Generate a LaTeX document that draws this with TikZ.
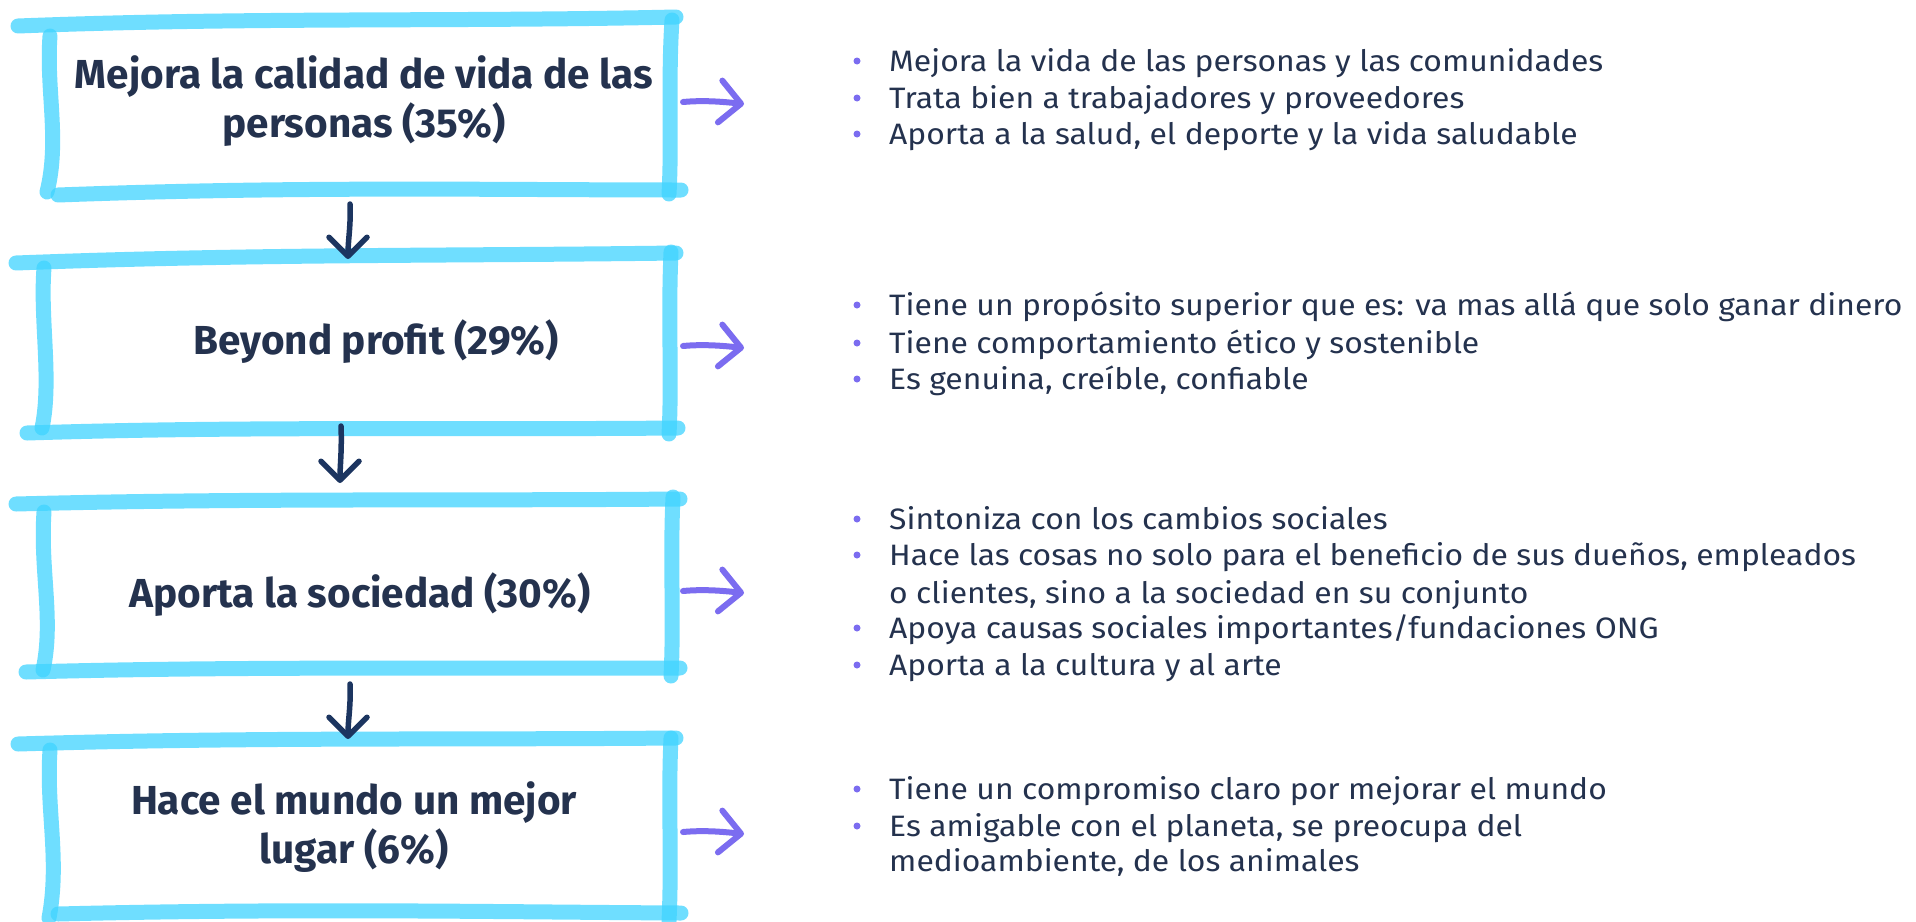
\documentclass[tikz,border=0pt]{standalone}
\usepackage{fontspec}
\setmainfont{Fira Sans}
\newfontfamily\headfont{Fira Sans Bold}
\newfontfamily\itemfont[FakeStretch=1.08]{Fira Sans}
\usetikzlibrary{arrows.meta}
\definecolor{boxc}{HTML}{40D4FF}
\definecolor{navy}{HTML}{24324E}
\definecolor{purp}{HTML}{7B6CF0}
\definecolor{darr}{HTML}{1C3560}
\begin{document}
\begin{tikzpicture}[x=1pt,y=-1pt,
  stroke/.style={line width=15pt, line cap=round, draw=boxc, draw opacity=0.75},
  head/.style={font=\fontsize{40.5}{49}\headfont, text=navy, align=center, inner sep=0pt},
  item/.style={font=\fontsize{29.5}{36}\itemfont, text=navy, anchor=base west, inner sep=0pt, align=left},
  dot/.style={circle, fill=purp, inner sep=0pt, minimum size=7pt},
  darrow/.style={line width=5.5pt, draw=darr, line cap=round, -{Straight Barb[length=19pt,width=38pt,line cap=round,line join=round]}},
  parrow/.style={line width=6pt, draw=purp, line cap=round, -{Straight Barb[length=21pt,width=42pt,line cap=round,line join=round]}}]
\useasboundingbox[fill=white] (0,0) rectangle (1916,921);

% ---------- box 1
\draw[stroke] (18,26) .. controls (250,17) and (450,22) .. (676,17);
\draw[stroke] (50,36) .. controls (46,90) and (60,140) .. (47,192);
\draw[stroke] (672,20) .. controls (668,80) and (672,140) .. (669,194);
\draw[stroke] (58,195) .. controls (300,186) and (500,190) .. (681,190);
\node[head] (h1) at (364,101) {Mejora la calidad de vida de las\\personas (35\%)};

% ---------- box 2
\draw[stroke] (16,263) .. controls (250,254) and (450,256) .. (676,253);
\draw[stroke] (44,268) .. controls (40,320) and (52,380) .. (42,428);
\draw[stroke] (671,252) .. controls (668,320) and (672,380) .. (669,434);
\draw[stroke] (27,433) .. controls (250,426) and (450,430) .. (678,428);
\node[head] (h2) at (376,342) {Beyond profit (29\%)};

% ---------- box 3
\draw[stroke] (16,504) .. controls (250,498) and (450,501) .. (680,499);
\draw[stroke] (44,512) .. controls (40,570) and (54,620) .. (43,670);
\draw[stroke] (673,497) .. controls (670,560) and (674,620) .. (671,676);
\draw[stroke] (26,672) .. controls (250,666) and (450,669) .. (680,668);
\node[head] (h3) at (360,595) {Aporta la sociedad (30\%)};

% ---------- box 4
\draw[stroke] (18,744) .. controls (250,737) and (450,740) .. (676,738);
\draw[stroke] (50,750) .. controls (46,810) and (60,860) .. (49,918);
\draw[stroke] (671,738) .. controls (668,800) and (672,860) .. (669,921);
\draw[stroke] (58,914) .. controls (300,908) and (500,912) .. (681,913);
\node[head] (h4) at (354,827) {Hace el mundo un mejor\\lugar (6\%)};

% ---------- down arrows
\coordinate (d1s) at (350,204); \coordinate (d1e) at (348,259);
\coordinate (d2s) at (341,426); \coordinate (d2e) at (340,483);
\coordinate (d3s) at (350,684); \coordinate (d3e) at (348,739);
\draw[darrow] (d1s) .. controls (351,225) and (348,240) .. (d1e);
\draw[darrow] (d2s) .. controls (342,450) and (340,465) .. (d2e);
\draw[darrow] (d3s) .. controls (351,705) and (348,720) .. (d3e);

% ---------- right arrows
\foreach \n/\y in {1/104,2/348,3/593,4/834}{
  \coordinate (r\n s) at (683,\y-2);
  \coordinate (r\n e) at (744,\y);
  \draw[parrow] (r\n s) .. controls (705,\y-4) and (725,\y-2) .. (r\n e);
}

% ---------- bullet lists
\foreach \n/\y/\t in {
  a1/61/{Mejora la vida de las personas y las comunidades},
  a2/98/{Trata bien a trabajadores y proveedores},
  a3/134/{Aporta a la salud, el deporte y la vida saludable},
  b1/305/{Tiene un propósito superior que es: va mas allá que solo ganar dinero},
  b2/343/{Tiene comportamiento ético y sostenible},
  b3/379/{Es genuina, creíble, confiable},
  c1/519/{Sintoniza con los cambios sociales},
  c2/555/{Hace las cosas no solo para el beneficio de sus dueños, empleados},
  c4/628/{Apoya causas sociales importantes/fundaciones ONG},
  c5/665/{Aporta a la cultura y al arte},
  d1/789/{Tiene un compromiso claro por mejorar el mundo},
  d2/826/{Es amigable con el planeta, se preocupa del}}{
  \node[dot] (dot\n) at (857,\y) {};
  \node[item] (t\n) at (889,\y+10) {\t};
}
\node[item] (tc3) at (889,593+10) {o clientes, sino a la sociedad en su conjunto};
\node[item] (td3) at (889,861+10) {medioambiente, de los animales};
\end{tikzpicture}
\end{document}
